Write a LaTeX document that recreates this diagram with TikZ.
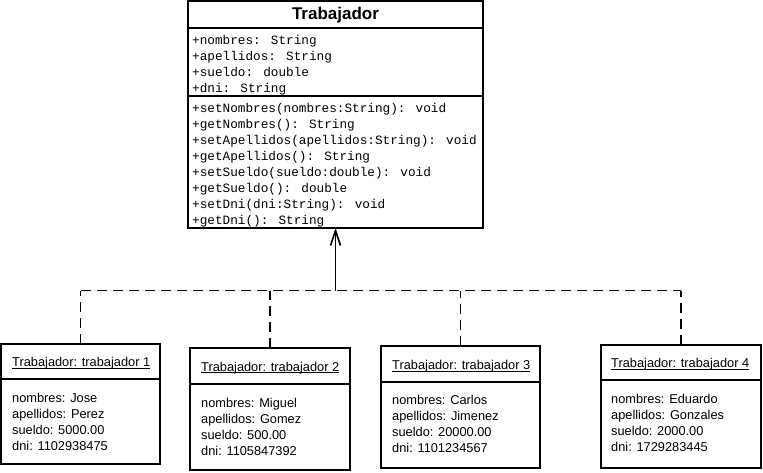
\documentclass[tikz,border=0pt]{standalone}
\usepackage{fontspec}
\setmainfont{Liberation Sans}
\newfontfamily\codefont{Liberation Mono}
\usetikzlibrary{arrows.meta}
\begin{document}
\begin{tikzpicture}[x=1pt,y=-1pt,
  boxline/.style={line width=1.6pt},
  umlbox/.style={draw, boxline, anchor=north west, inner sep=0pt, outer sep=0pt},
  member/.style={anchor=base west, inner sep=0pt, font=\codefont\fontsize{12.7}{16}\selectfont},
  objtext/.style={anchor=base west, inner sep=0pt, font=\fontsize{12.8}{16}\selectfont},
  realize/.style={line width=1.6pt, dash pattern=on 10pt off 6pt},
  inherit/.style={line width=1.6pt, -{Straight Barb[length=15pt,width=10pt,line width=1.6pt]}}
]
\useasboundingbox (0,0) rectangle (763,473);

% ---------- class Trabajador ----------
\node[umlbox, minimum width=295pt, minimum height=227pt] (cls) at (188,1) {};
\node[anchor=base, inner sep=0pt, font=\bfseries\fontsize{17}{20}\selectfont] (clsname) at (335.5,20) {Trabajador};
\draw[boxline] (cls.west |- 0,28) -- (cls.east |- 0,28);
\draw[boxline] (cls.west |- 0,96) -- (cls.east |- 0,96);

\node[member] (a1) at (192,45) {+nombres: String};
\node[member] (a2) at (192,61) {+apellidos: String};
\node[member] (a3) at (192,77) {+sueldo: double};
\node[member] (a4) at (192,93) {+dni: String};

\node[member] (m1) at (192,112.5) {+setNombres(nombres:String): void};
\node[member] (m2) at (192,128.5) {+getNombres(): String};
\node[member] (m3) at (192,144.5) {+setApellidos(apellidos:String): void};
\node[member] (m4) at (192,160.5) {+getApellidos(): String};
\node[member] (m5) at (192,176.5) {+setSueldo(sueldo:double): void};
\node[member] (m6) at (192,192.5) {+getSueldo(): double};
\node[member] (m7) at (192,208.5) {+setDni(dni:String): void};
\node[member] (m8) at (192,224.5) {+getDni(): String};

% ---------- objects ----------
% trabajador 1
\node[umlbox, minimum width=159pt, minimum height=120pt] (o1) at (1,344) {};
\draw[boxline] (o1.west |- 0,379) -- (o1.east |- 0,379);
\node[objtext] (t1) at (12,366.7) {Trabajador: trabajador 1};
\draw[line width=0.9pt] ([yshift=-1.8pt]t1.base west) -- ([yshift=-1.8pt]t1.base east);
\node[objtext] (o1a) at (12,402.7) {nombres: Jose};
\node[objtext] (o1b) at (12,418.7) {apellidos: Perez};
\node[objtext] (o1c) at (12,434.7) {sueldo: 5000.00};
\node[objtext] (o1d) at (12,450.7) {dni: 1102938475};

% trabajador 2
\node[umlbox, minimum width=160pt, minimum height=122pt] (o2) at (190,348) {};
\draw[boxline] (o2.west |- 0,384) -- (o2.east |- 0,384);
\node[objtext] (t2) at (201,371) {Trabajador: trabajador 2};
\draw[line width=0.9pt] ([yshift=-1.8pt]t2.base west) -- ([yshift=-1.8pt]t2.base east);
\node[objtext] (o2a) at (201,407.7) {nombres: Miguel};
\node[objtext] (o2b) at (201,423.7) {apellidos: Gomez};
\node[objtext] (o2c) at (201,439.7) {sueldo: 500.00};
\node[objtext] (o2d) at (201,455.7) {dni: 1105847392};

% trabajador 3
\node[umlbox, minimum width=159pt, minimum height=122pt] (o3) at (381,346) {};
\draw[boxline] (o3.west |- 0,382) -- (o3.east |- 0,382);
\node[objtext] (t3) at (392,369.3) {Trabajador: trabajador 3};
\draw[line width=0.9pt] ([yshift=-1.8pt]t3.base west) -- ([yshift=-1.8pt]t3.base east);
\node[objtext] (o3a) at (392,404.3) {nombres: Carlos};
\node[objtext] (o3b) at (392,420.3) {apellidos: Jimenez};
\node[objtext] (o3c) at (392,436.3) {sueldo: 20000.00};
\node[objtext] (o3d) at (392,452.3) {dni: 1101234567};

% trabajador 4
\node[umlbox, minimum width=160pt, minimum height=123pt] (o4) at (601,345) {};
\draw[boxline] (o4.west |- 0,380) -- (o4.east |- 0,380);
\node[objtext] (t4) at (611,367.3) {Trabajador: trabajador 4};
\draw[line width=0.9pt] ([yshift=-1.8pt]t4.base west) -- ([yshift=-1.8pt]t4.base east);
\node[objtext] (o4a) at (611,403.3) {nombres: Eduardo};
\node[objtext] (o4b) at (611,419.3) {apellidos: Gonzales};
\node[objtext] (o4c) at (611,435.3) {sueldo: 2000.00};
\node[objtext] (o4d) at (611,451.3) {dni: 1729283445};

% ---------- connectors ----------
% shared dashed bus, one drop per object, solid stem with open head
\coordinate (join) at (cls.south |- 0,290.5);
\coordinate (b1) at (o1.north |- join);
\coordinate (b2) at (o2.north |- join);
\coordinate (b3) at (o3.north |- join);
\coordinate (b4) at (o4.north |- join);
\draw[realize] (b1) -- (b4);
\draw[realize] (o1.north) -- (b1);
\draw[realize] (o2.north) -- (b2);
\draw[realize] (o3.north) -- (b3);
\draw[realize] (o4.north) -- (b4);
\draw[inherit] (join) -- (cls.south);
\end{tikzpicture}
\end{document}
